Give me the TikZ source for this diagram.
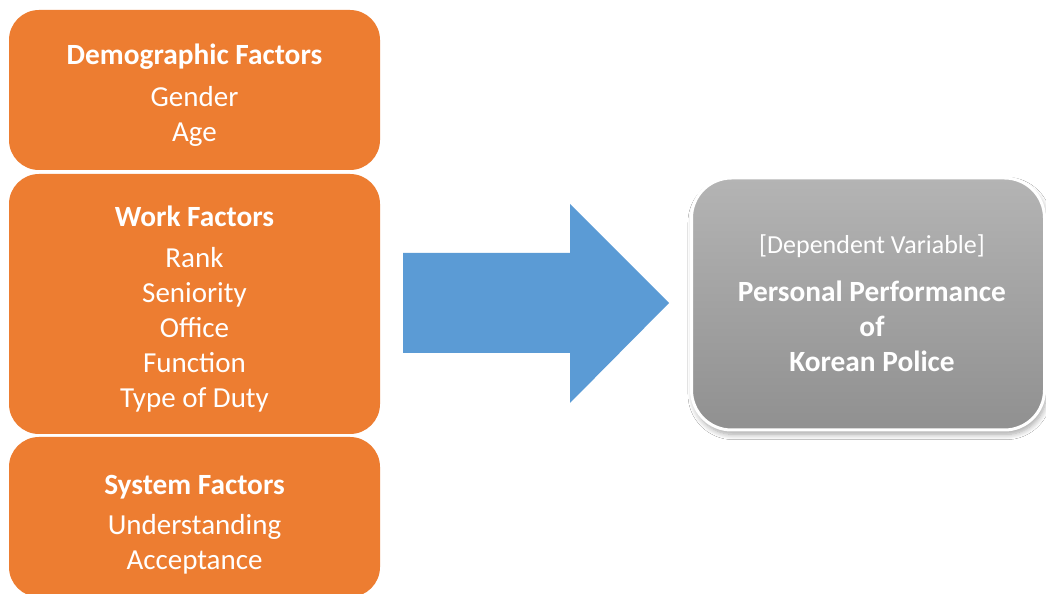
\documentclass[tikz,border=0pt]{standalone}
\usepackage{fontspec}
\setmainfont{Carlito}
\usetikzlibrary{shadows.blur}
\definecolor{boxorange}{RGB}{237,125,49}
\definecolor{arrowblue}{RGB}{91,155,213}
\definecolor{graytop}{RGB}{180,180,180}
\definecolor{graybot}{RGB}{144,144,144}
\begin{document}
\begin{tikzpicture}[x=0.02cm,y=-0.02cm,
  factorbox/.style={rectangle, rounded corners=30*0.02cm, fill=boxorange, draw=none, minimum width=371*0.02cm, inner sep=0pt},
  depbox/.style={rectangle, rounded corners=40*0.02cm, top color=graytop, bottom color=graybot, draw=white, line width=3*0.02cm, minimum width=353*0.02cm, minimum height=252*0.02cm, inner sep=0pt,
    blur shadow={shadow xshift=1pt, shadow yshift=-2.5pt, shadow blur steps=8, shadow blur radius=3pt, shadow opacity=35}},
  ttl/.style={anchor=base, text=white, font=\fontsize{16.7pt}{20pt}\selectfont\bfseries, inner sep=0pt},
  itm/.style={anchor=base, text=white, font=\fontsize{16.5pt}{20pt}\selectfont, inner sep=0pt},
  sub/.style={anchor=base, text=white, font=\fontsize{14.8pt}{18pt}\selectfont, inner sep=0pt}]
\useasboundingbox (0,0) rectangle (1046,594);
\fill[white] (0,0) rectangle (1046,594);
% orange boxes
\node[factorbox, minimum height=160*0.02cm] (demo) at (194.5,90) {};
\node[factorbox, minimum height=260*0.02cm] (work) at (194.5,304) {};
\node[factorbox, minimum height=160*0.02cm] (sys) at (194.5,517) {};
% texts
\node[ttl] (t1) at (194.5,65) {Demographic Factors};
\node[itm] (t1a) at (194.5,107) {Gender};
\node[itm] (t1b) at (194.5,142) {Age};
\node[ttl] (t2) at (194.5,227) {Work Factors};
\node[itm] (t2a) at (194.5,268) {Rank};
\node[itm] (t2b) at (194.5,303) {Seniority};
\node[itm] (t2c) at (194.5,338) {Office};
\node[itm] (t2d) at (194.5,373) {Function};
\node[itm] (t2e) at (194.5,408) {Type of Duty};
\node[ttl] (t3) at (194.5,495) {System Factors};
\node[itm] (t3a) at (194.5,535) {Understanding};
\node[itm] (t3b) at (194.5,570) {Acceptance};
% dependent box
\node[depbox] (dep) at (868,304) {};
\node[sub] (d0) at (872,254) {[Dependent Variable]};
\node[ttl] (d1) at (872,302) {Personal Performance};
\node[ttl] (d2) at (872,337) {of};
\node[ttl] (d3) at (872,372) {Korean Police};
% block arrow
\fill[arrowblue] (403,253) -- (570,253) -- (570,204) -- (669,303) -- (570,403) -- (570,353) -- (403,353) -- cycle;
\end{tikzpicture}
\end{document}
